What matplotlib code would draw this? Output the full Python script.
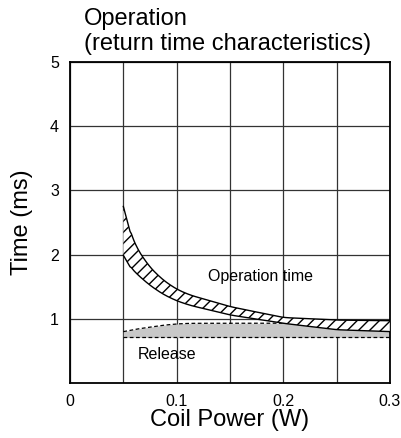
import numpy as np
import matplotlib.pyplot as plt

plt.rcParams['font.family'] = ['Liberation Sans', 'DejaVu Sans']
plt.rcParams['hatch.linewidth'] = 1.0

# coil power (W)
power = [0.05, 0.0563, 0.0625, 0.075, 0.0875, 0.10, 0.1125, 0.15, 0.20, 0.25, 0.30]
# operation time band (ms)
op_upper = [2.75, 2.36, 2.10, 1.80, 1.60, 1.46, 1.37, 1.19, 1.02, 0.98, 0.97]
op_lower = [1.99, 1.81, 1.70, 1.52, 1.38, 1.28, 1.21, 1.06, 0.93, 0.83, 0.80]
# release time band (ms)
rel_upper = [0.80, 0.82, 0.84, 0.87, 0.90, 0.92, 0.93, 0.93, 0.93, 0.94, 0.95]
rel_lower = [0.71, 0.71, 0.71, 0.71, 0.71, 0.71, 0.71, 0.71, 0.71, 0.71, 0.71]

x_ticks = [0, 0.1, 0.2, 0.3]
y_ticks = [1, 2, 3, 4, 5]

# smooth the hand-read points for drawing
xs = np.linspace(power[0], power[-1], 200)
k = np.ones(9) / 9
def soft(vals):
    y = np.interp(xs, power, vals)
    yp = np.pad(y, 4, mode='edge')
    out = np.convolve(yp, k, mode='valid')
    out[:6] = y[:6]
    return out

fig = plt.figure(figsize=(4.02, 4.38), dpi=100)
ax = fig.add_axes([70 / 402, 1 - 383 / 438, 320 / 402, 321 / 438])

# release band (gray, dashed borders)
ru, rl = soft(rel_upper), soft(rel_lower)
ax.fill_between(xs, rl, ru, color='#c8c8c8', lw=0, zorder=2)
ax.plot(xs, ru, color='black', lw=0.9, dashes=(3, 2), zorder=3)
ax.plot(xs, rl, color='black', lw=0.9, dashes=(3, 2), zorder=3)

# operation band (hatched)
ou, ol = soft(op_upper), soft(op_lower)
ax.fill_between(xs, ol, ou, facecolor='white', edgecolor='black',
                hatch='///', lw=0, zorder=4)
ax.plot(xs, ou, color='black', lw=1.0, zorder=5)
ax.plot(xs, ol, color='black', lw=1.0, zorder=5)
ax.plot([xs[-1], xs[-1]], [ol[-1], ou[-1]], color='black', lw=1.0, zorder=5)

ax.set_xlim(0, 0.3)
ax.set_ylim(0, 5)
ax.set_xticks(x_ticks)
ax.set_xticklabels(['0', '0.1', '0.2', '0.3'])
ax.set_xticks(np.arange(0.05, 0.3, 0.05), minor=True)
ax.set_yticks(y_ticks)
ax.tick_params(which='both', length=0, labelsize=11.5, pad=8)
ax.grid(True, which='both', color='#333333', lw=0.9, zorder=1)
ax.set_axisbelow(True)
for s in ax.spines.values():
    s.set_linewidth(1.3)

ax.set_xlabel('Coil Power (W)', fontsize=17, labelpad=0)
ax.set_ylabel('Time (ms)', fontsize=17, labelpad=12)

ax.text(0.179, 1.66, 'Operation time', fontsize=11.5, ha='center', va='center', zorder=6)
ax.text(0.0906, 0.44, 'Release', fontsize=11.5, ha='center', va='center', zorder=6)

fig.text(84 / 402, 1 - 8 / 438, 'Operation\n(return time characteristics)',
         fontsize=17, ha='left', va='top', linespacing=1.15)

fig.savefig('out.png', dpi=100)
